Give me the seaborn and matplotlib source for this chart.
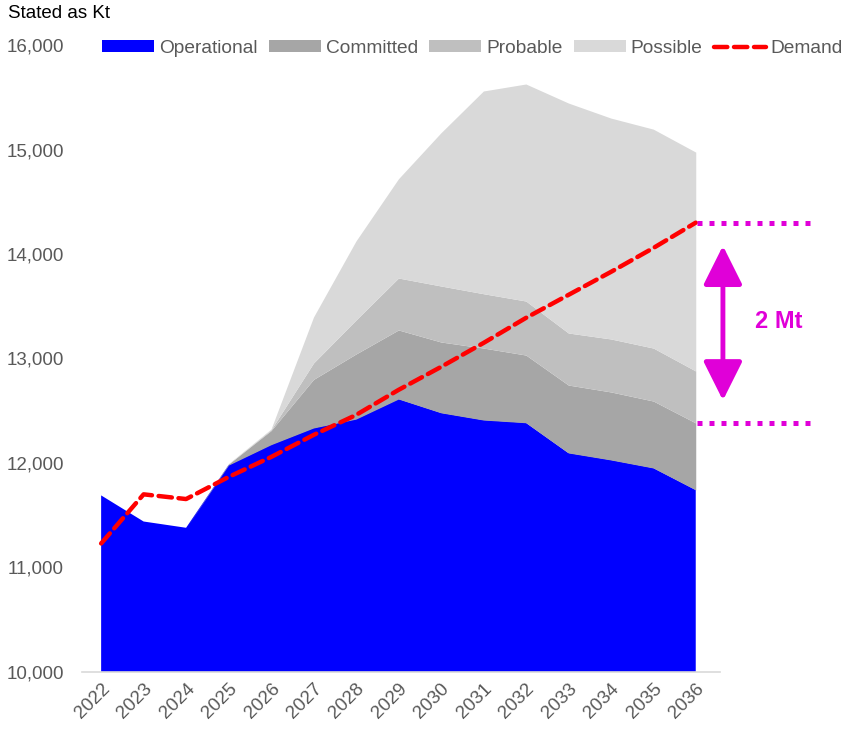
import matplotlib
matplotlib.use('Agg')
import matplotlib.pyplot as plt
import seaborn as sns
import pandas as pd
import numpy as np
from matplotlib.patches import Patch, FancyArrowPatch
from matplotlib.lines import Line2D
from matplotlib.ticker import FuncFormatter

# Data (Kt)
years = list(range(2022, 2037))
operational = [11690, 11440, 11380, 11980, 12175, 12335, 12420, 12612, 12480, 12411, 12385, 12096, 12029, 11952, 11742]
committed = [0, 0, 0, 10, 135, 465, 623, 661, 678, 689, 648, 650, 651, 641, 641]
probable = [0, 0, 0, 0, 8, 157, 325, 497, 536, 520, 517, 498, 507, 507, 497]
possible = [0, 0, 0, 5, 7, 440, 757, 950, 1466, 1940, 2077, 2201, 2114, 2095, 2095]
demand = [11230, 11700, 11655, 11866, 12057, 12268, 12459, 12699, 12919, 13148, 13388, 13608, 13828, 14057, 14300]

series_names = ["Operational", "Committed", "Probable", "Possible"]
series_colors = ["#0000FF", "#A6A6A6", "#BFBFBF", "#D9D9D9"]
gap_label = "2 Mt"

sns.set_theme(style="white")
plt.rcParams['font.family'] = ['Liberation Sans', 'DejaVu Sans']

fig = plt.figure(figsize=(8.5, 7.32), dpi=100)
ax = fig.add_axes([0.0965, 0.082, 0.75, 0.8565])

df = pd.DataFrame({"year": years, "Operational": operational, "Committed": committed,
                   "Probable": probable, "Possible": possible, "Demand": demand})

ax.stackplot(df["year"], [df[n] for n in series_names], colors=series_colors, linewidth=0)

sns.lineplot(data=df, x="year", y="Demand", ax=ax, color="#FF0000", lw=3.2,
             linestyle=(0, (3, 1.5)), dash_capstyle="round")

ax.set_xlim(2021.55, 2036.56)
ax.set_ylim(10000, 16000)
ax.set_xticks(years)
ax.set_xticklabels([str(y) for y in years], rotation=45, ha="right", rotation_mode="anchor")
ax.set_yticks(range(10000, 16001, 1000))
ax.yaxis.set_major_formatter(FuncFormatter(lambda v, p: f"{int(v):,}"))
ax.tick_params(axis="both", length=0, labelsize=13.5, colors="#595959")
ax.tick_params(axis="y", pad=13)
ax.tick_params(axis="x", pad=6)
ax.set_xlabel("")
ax.set_ylabel("")
for s in ["top", "right", "left"]:
    ax.spines[s].set_visible(False)
ax.spines["bottom"].set_color("#D9D9D9")
ax.spines["bottom"].set_linewidth(1.2)

# gap annotation between demand and committed in the final year
committed_top = operational[-1] + committed[-1]
magenta = "#E000D8"
for level in [demand[-1], committed_top]:
    ax.plot([2036.02, 2038.75], [level, level], color=magenta, lw=3.6,
            linestyle=(0, (1, 1.4)), clip_on=False)

arrow = FancyArrowPatch((2036.64, committed_top + 190), (2036.64, demand[-1] - 195),
                        arrowstyle="<|-|>,head_length=24,head_width=12",
                        mutation_scale=1, color=magenta, lw=3.5, clip_on=False)
ax.add_patch(arrow)
ax.text(2037.95, (demand[-1] + committed_top) / 2 + 10, gap_label, color=magenta,
        fontsize=17, fontweight="bold", ha="center", va="center", clip_on=False)

fig.text(0.0095, 0.981, "Stated as Kt", fontsize=13.5, color="black", va="center", ha="left")

handles = [Patch(facecolor=c, edgecolor="none") for c in series_colors]
handles.append(Line2D([0], [0], color="#FF0000", lw=3.2, linestyle=(0, (3, 1.5)), dash_capstyle="round"))
labels = series_names + ["Demand"]
leg = fig.legend(handles, labels, loc="center", bbox_to_anchor=(0.556, 0.934), ncol=5,
                 frameon=False, fontsize=13.8, handlelength=2.7, handleheight=0.55,
                 handletextpad=0.26, columnspacing=0.6)
for t in leg.get_texts():
    t.set_color("#595959")

fig.savefig("out.png", dpi=100, facecolor="white")
